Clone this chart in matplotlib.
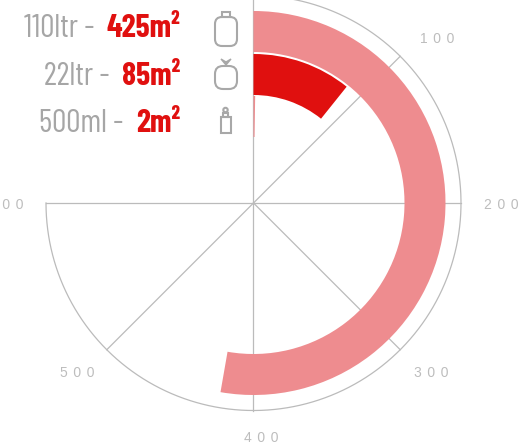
import numpy as np
import matplotlib
matplotlib.use("Agg")
import matplotlib.pyplot as plt
from matplotlib.patches import FancyBboxPatch, Rectangle, Circle, Polygon

# label text and the value each ring is drawn at, outermost ring first
sizes = ["110ltr", "22ltr", "500ml"]
labels = [425, 85, 2]
drawn = [422, 86, 2]
ring_colors = ["#ee8c8f", "#e0100f", "#ee8c8f"]
ticks = [0, 100, 200, 300, 400, 500, 600]
scale_max = 800

W, H = 523, 443
CX, CY, R = 253.5, 203, 207.5
GRID = "#bbbbbb"
RED = "#e0100f"
GREY = "#a6a6a6"
TICK = "#bdbdbd"
FONT = ["Barlow Condensed", "Liberation Sans", "DejaVu Sans"]
HAIR = "\u200a"

def ang(v):
    return 2 * np.pi * np.asarray(v) / scale_max

fig = plt.figure(figsize=(W / 100, H / 100), dpi=100)
ax = fig.add_axes([(CX - R) / W, (H - CY - R) / H, 2 * R / W, 2 * R / H], projection="polar")
ax.set_theta_zero_location("N")
ax.set_theta_direction(-1)
ax.set_ylim(0, R)
ax.axis("off")

# grid
for t in ticks:
    ax.plot([ang(t), ang(t)], [0, R], color=GRID, lw=0.9, zorder=1, clip_on=False)
arc = np.linspace(0, ang(ticks[-1]), 300)
ax.plot(arc, np.full_like(arc, R), color=GRID, lw=0.9, zorder=1, clip_on=False)

# rings
inner = [151, 108, 66]
thick = [41, 41, 41]
for a, c, r0, h in zip(drawn, ring_colors, inner, thick):
    ax.bar(ang(a) / 2, h, width=ang(a), bottom=r0, color=c, lw=0, zorder=2)

# tick labels
offs = {100: (37, 17), 200: (40, -2), 300: (31, -23), 400: (8, -27), 500: (-30, -23), 600: (-40, -2)}
for t in ticks[1:]:
    ax.annotate((HAIR * 5).join(str(t)), xy=(ang(t), R), xytext=offs[t], textcoords="offset pixels",
                ha="center", va="center", color=TICK, fontsize=10,
                family=["Liberation Sans", "DejaVu Sans"], annotation_clip=False)

# overlay in pixel coordinates for the legend
ov = fig.add_axes([0, 0, 1, 1])
ov.set_xlim(0, W)
ov.set_ylim(H, 0)
ov.axis("off")
ov.patch.set_alpha(0)

baselines = [37, 85, 132]
renderer = fig.canvas.get_renderer()
for s, a, y in zip(sizes, labels, baselines):
    red = ov.text(180, y, "%dm²" % a, ha="right", va="baseline", color=RED, fontsize=23,
                  fontweight="bold", family=FONT)
    x0 = red.get_window_extent(renderer).x0
    ov.text(x0 - 6, y, s + " - ", ha="right", va="baseline", color=GREY, fontsize=23,
            family=FONT)

# bottle icons
ic = dict(fc="none", ec="#a8a8a8", lw=1.5)
ov.add_patch(FancyBboxPatch((218, 20), 16, 23, boxstyle="round,pad=3,rounding_size=7", **ic))
ov.add_patch(Rectangle((221.5, 12), 8, 5, **ic))
ov.add_patch(FancyBboxPatch((218, 69), 16, 17, boxstyle="round,pad=3,rounding_size=8", **ic))
ov.add_patch(Polygon([[221, 59], [226, 65], [231, 59], [226, 62]], closed=True, fc="#a8a8a8", ec="#a8a8a8", lw=1))
ov.add_patch(Rectangle((220.5, 117), 10, 16, **ic))
ov.add_patch(Rectangle((223, 113), 5, 4, **ic))
ov.add_patch(Circle((225.5, 110), 2.2, **ic))

fig.savefig("out.png", dpi=100)
